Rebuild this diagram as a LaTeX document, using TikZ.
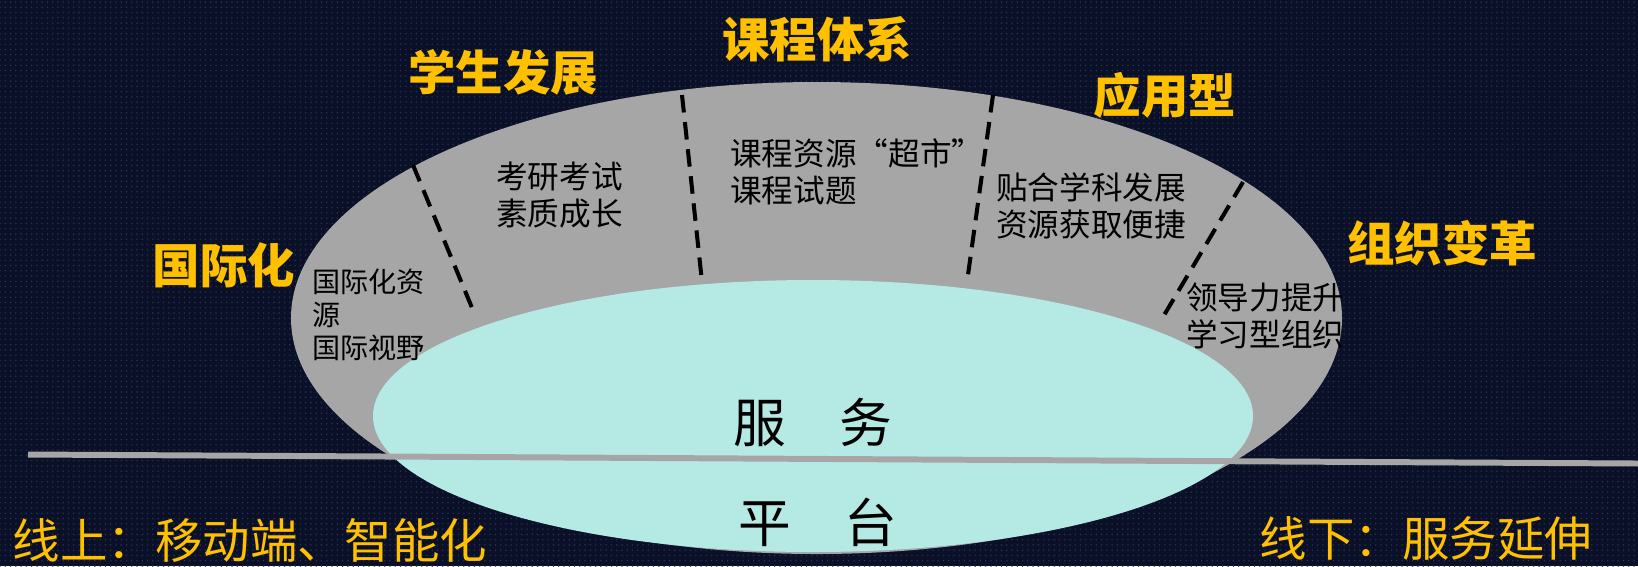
\documentclass[tikz,border=0pt]{standalone}
\usepackage{fontspec}
\setmainfont{Noto Sans CJK SC}
\usetikzlibrary{patterns}
\definecolor{navy}{HTML}{0B1029}
\definecolor{dotgray}{HTML}{283048}
\definecolor{ringgray}{HTML}{A6A6A6}
\definecolor{pool}{HTML}{B5EAE4}
\definecolor{gold}{HTML}{FFC000}
\newcommand{\lquo}{\makebox[1em][r]{“}}
\newcommand{\rquo}{\makebox[1em][l]{”}}
\tikzset{title/.style={text=gold,font=\fontsize{27}{30}\selectfont\bfseries,inner sep=0pt},
	 item/.style={anchor=west,align=left,font=\fontsize{18}{21}\selectfont,inner sep=0pt},
	 divider/.style={line width=2.3pt,dash pattern=on 10pt off 5.5pt},
	 base/.style={font=\fontsize{30}{34}\selectfont,inner sep=0pt},
	 footer/.style={text=gold,font=\fontsize{27}{30}\selectfont,inner sep=0pt}
	 }

\begin{document}
\begin{tikzpicture}[x=0.02cm,y=-0.02cm]
	\useasboundingbox (0,0) rectangle (1638,566);
	\fill[navy] (0,0) rectangle (1638,566);
	\fill[pattern=dots,pattern color=dotgray] (0,0) rectangle (1638,566);
	% ring and dividers
	\fill[ringgray] (816.5,318) ellipse [x radius=525.5, y radius=236];
	\coordinate (d1a) at (413,165); \coordinate (d1b) at (475,315);
	\coordinate (d2a) at (682,95);  \coordinate (d2b) at (702,282);
	\coordinate (d3a) at (993,95);  \coordinate (d3b) at (967,282);
	\coordinate (d4a) at (1243,182); \coordinate (d4b) at (1160,322);
	\draw[divider] (d1a) -- (d1b);
	\draw[divider] (d2a) -- (d2b);
	\draw[divider] (d3a) -- (d3b);
	\draw[divider] (d4a) -- (d4b);
	\fill[pool] (813,416) ellipse [x radius=440, y radius=136];
	% online / offline line
	\coordinate (lineL) at (28,454.5);
	\coordinate (lineR) at (1638,463.5);
	\draw[ringgray, line width=3.4pt] (lineL) -- (lineR);
	\node[title] (students) at (503,72) {学生发展};
	\node[title] (courses) at (817,39) {课程体系};
	\node[title] (applied) at (1165,95) {应用型};
	\node[title] (intl) at (224,265) {国际化};
	\node[title] (reform) at (1442,243) {组织变革};
	\node[item] (exam) at (496,195) {考研考试\\素质成长};
	\node[item] (market) at (730,172) {课程资源\lquo 超市\rquo\\课程试题};
	\node[item] (subject) at (996,206) {贴合学科发展\\资源获取便捷};
	\node[item,font=\fontsize{16}{18.7}\selectfont] (global) at (312,315) {国际化资\\源\\国际视野};
	\node[item] (leader) at (1186,316) {领导力提升\\学习型组织};
	\node[base] (service) at (813,422) {服\hspace{1em}务};
	\node[base] (platform) at (818,522) {平\hspace{1em}台};
	\node[footer] (online) at (250,540) {线上：移动端、智能化};
	\node[footer] (offline) at (1426,538.5) {线下：服务延伸};
\end{tikzpicture}
\end{document}
